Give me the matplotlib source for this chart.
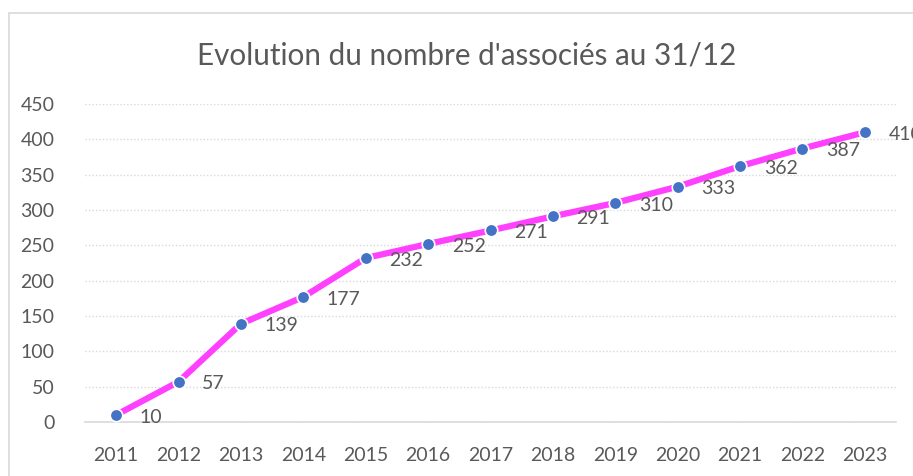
import matplotlib.pyplot as plt
from matplotlib.patches import Rectangle

years = ["2011", "2012", "2013", "2014", "2015", "2016", "2017",
         "2018", "2019", "2020", "2021", "2022", "2023"]
associes = [10, 57, 139, 177, 232, 252, 271, 291, 310, 333, 362, 387, 410]
yticks = [0, 50, 100, 150, 200, 250, 300, 350, 400, 450]

plt.rcParams["font.family"] = ["Lato", "DejaVu Sans"]
txt = "#595959"
grid = "#D9D9D9"

fig = plt.figure(figsize=(9.13, 4.76), dpi=100)
# chart border (cut off at right/bottom like the screenshot)
fig.patches.append(Rectangle((9 / 913, -0.05), 1.2, 1 - 13 / 476 + 0.05,
                             transform=fig.transFigure, fill=False,
                             edgecolor=grid, linewidth=1.2))

ax = fig.add_axes([85 / 913, 1 - 422 / 476, (896 - 85) / 913, (422 - 104) / 476])
x = list(range(len(years)))
ax.plot(x, associes, color="#FF40FF", linewidth=4.5, solid_capstyle="butt",
        marker="o", markersize=9, markerfacecolor="#4472C4",
        markeredgecolor="white", markeredgewidth=1.2, zorder=3)

for xi, v in zip(x, associes):
    ax.annotate(str(v), (xi, v), xytext=(17, -1.5), textcoords="offset points",
                ha="left", va="center", fontsize=14, color=txt,
                annotation_clip=False)

ax.set_xlim(-0.5, len(years) - 0.5)
ax.set_ylim(0, 450)
ax.set_xticks(x)
ax.set_xticklabels(years)
ax.set_yticks(yticks)
ax.tick_params(axis="both", length=0, labelsize=14, colors=txt)
ax.tick_params(axis="x", pad=18)
ax.tick_params(axis="y", pad=22)

ax.grid(axis="y", color=grid, linestyle=(0, (1, 1.5)), linewidth=1)
ax.set_axisbelow(True)
for s in ["top", "right", "left"]:
    ax.spines[s].set_visible(False)
ax.spines["bottom"].set_color(grid)
ax.spines["bottom"].set_linewidth(1.2)

fig.text(467 / 913, 1 - 56 / 476, "Evolution du nombre d'associés au 31/12",
         ha="center", va="center", fontsize=21.3, color=txt)

fig.savefig("out.png", dpi=100)
